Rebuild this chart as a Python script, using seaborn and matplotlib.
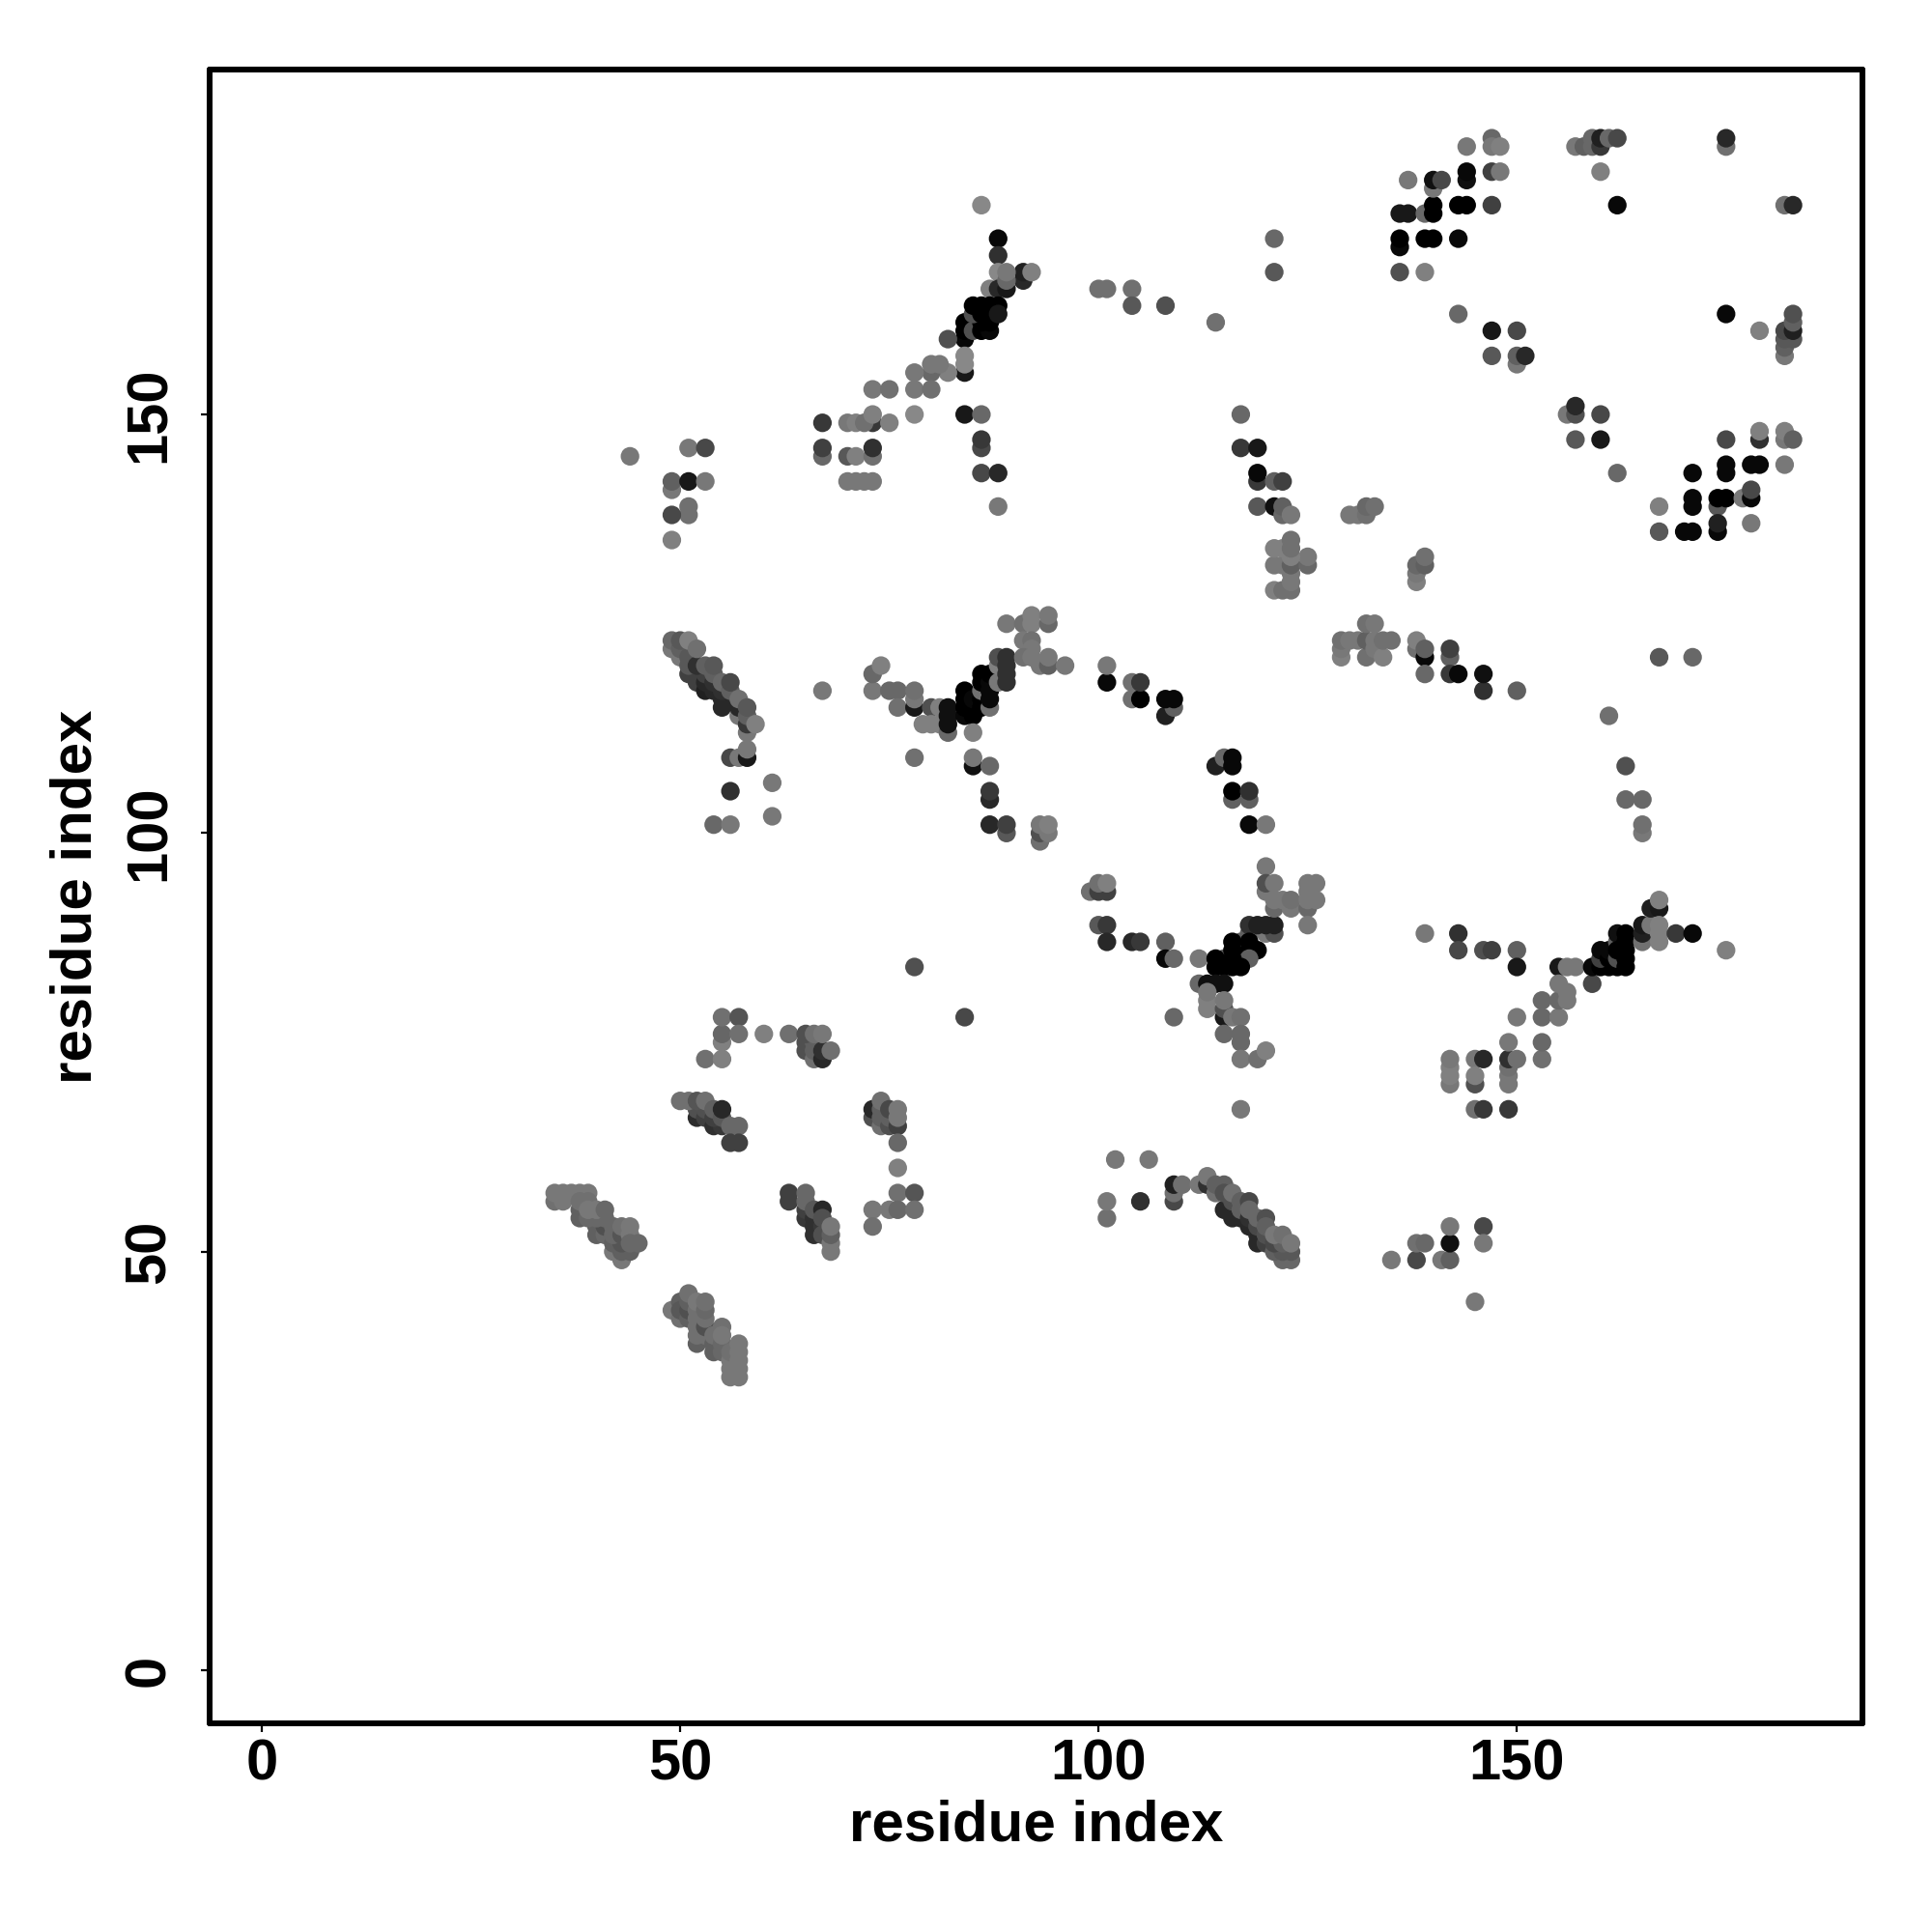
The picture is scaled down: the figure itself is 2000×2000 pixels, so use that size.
import matplotlib
matplotlib.use("Agg")
import matplotlib.pyplot as plt
import pandas as pd
import seaborn as sns

# each contact: (residue i, residue j, grey level)
helix_a = [(35,56,0x70),(36,56,0x78),(35,57,0x78),(36,57,0x78),(37,57,0x78),(38,57,0x78),(39,57,0x78),(38,54,0x60),(38,55,0x60),(38,56,0x70),(39,56,0x70),
           (40,52,0x60),(40,53,0x60),(41,52,0x68),(41,53,0x50),(41,54,0x68),(39,54,0x68),(40,54,0x68),(39,55,0x78),(40,55,0x78),(41,55,0x68),
           (43,49,0x78),(42,50,0x78),(43,50,0x60),(44,50,0x60),(42,51,0x60),(43,51,0x55),(42,52,0x68),(42,53,0x68),(43,52,0x55),(43,53,0x70),(44,53,0x78),(44,52,0x78),(44,51,0x68),(45,51,0x68)]
helix_b = [(49,43,0x78),(50,42,0x70),(50,44,0x60),(50,43,0x58),(51,42,0x60),(51,43,0x50),(51,44,0x60),(51,45,0x70),(52,39,0x60),(52,40,0x70),(52,41,0x70),(52,42,0x70),(52,43,0x70),(52,44,0x78),
           (53,40,0x70),(53,41,0x50),(53,42,0x70),(53,43,0x68),(53,44,0x70),(54,38,0x60),(54,39,0x60),(54,40,0x70),(55,38,0x68),(55,39,0x68),(55,41,0x70),(55,40,0x78),
           (56,35,0x78),(56,36,0x78),(56,37,0x78),(56,38,0x70),(57,35,0x78),(57,36,0x78),(57,37,0x78),(57,38,0x78),(57,39,0x78)]
loop_c = [(55,75,0x80),(55,76,0x66),(55,78,0x70),(57,78,0x55),(57,76,0x70),(60,76,0x80),(53,73,0x70),(55,73,0x80),(63,76,0x70),
          (65,74,0x50),(65,75,0x50),(66,73,0x70),(66,74,0x60),(66,75,0x60),(67,73,0x28),(67,74,0x30),(65,76,0x50),(66,76,0x70),(67,76,0x78),(68,74,0x70)]
strand_d = [(52,66,0x2c),(52,67,0x50),(53,66,0x40),(53,67,0x50),(54,65,0x30),(55,65,0x38),(54,66,0x40),(50,68,0x70),(51,68,0x70),(52,68,0x55),(53,68,0x70),(54,67,0x60),(55,66,0x58),(55,67,0x28),(56,65,0x68),(57,65,0x68),(56,63,0x40),(57,63,0x40)]
strand_e = [(63,56,0x40),(63,57,0x40),(65,54,0x38),(65,55,0x40),(66,52,0x30),(66,53,0x30),(66,54,0x30),(65,56,0x68),(65,57,0x68),(66,55,0x58),(67,53,0x38),(67,55,0x28),(67,52,0x50),(67,54,0x50),(68,50,0x78),(68,51,0x78),(68,52,0x60),(68,53,0x78)]
strand_f = [(73,66,0x50),(73,67,0x28),(74,65,0x70),(74,66,0x60),(74,67,0x60),(74,68,0x70),(75,65,0x50),(75,66,0x60),(75,67,0x48),(76,65,0x40),(76,66,0x78),(76,67,0x78),(76,63,0x68),(76,60,0x80),
            (76,57,0x70),(78,57,0x55),(73,55,0x78),(75,55,0x78),(76,55,0x68),(78,55,0x70),(73,53,0x70),(78,84,0x50),(84,78,0x48)]
core_g = [(101,93,0x40),(99,93,0x70),(100,93,0x40),(100,94,0x70),(101,94,0x80),(100,89,0x58),(101,89,0x38),(101,87,0x28),(104,87,0x28),(105,87,0x38),(108,87,0x60),(108,85,0x08),(109,85,0x68),(112,85,0x78),(109,78,0x68),(117,67,0x78),
          (118,88,0x60),(120,88,0x78),(121,88,0x50),(118,89,0x30),(119,89,0x20),(120,89,0x20),(121,89,0x20),(117,87,0x60),(118,87,0x00),(116,87,0x00),(117,85,0x60),(115,85,0x60),(116,86,0x00),(118,86,0x00),(119,86,0x00),(118,85,0x60),
          (114,85,0x00),(114,84,0x00),(115,84,0x00),(116,85,0x00),(116,84,0x00),(117,84,0x00),(112,82,0x68),(113,82,0x10),(114,82,0x10),(115,82,0x10),(113,79,0x80),(113,80,0x80),(113,81,0x78),
          (115,78,0x18),(115,79,0x50),(115,80,0x78),(116,78,0x78),(117,78,0x70),(115,76,0x68),(117,75,0x68),(117,76,0x68),(117,73,0x78),(119,73,0x70),(120,74,0x80)]
core_h = [(120,96,0x78),(120,93,0x78),(120,94,0x50),(121,94,0x78),(121,91,0x68),(121,92,0x78),(122,92,0x78),(123,91,0x78),(123,92,0x70),(125,91,0x68),(125,92,0x78),(125,93,0x78),(126,92,0x78),(125,94,0x78),(126,94,0x78),(125,89,0x78)]
band_i = [(101,54,0x70),(101,56,0x78),(102,61,0x78),(106,61,0x78),(105,56,0x30),(109,56,0x48),(109,57,0x70),(109,58,0x20),(110,58,0x70),(112,58,0x78),(113,58,0x30),(113,59,0x78),
          (115,55,0x28),(116,54,0x28),(117,54,0x28),(116,55,0x28),(118,53,0x28),(119,51,0x28),(119,52,0x28),(114,57,0x70),(114,58,0x60),(115,58,0x60),(115,57,0x50),(116,56,0x50),(116,57,0x70),(117,55,0x60),(117,56,0x60),(118,56,0x48),(118,54,0x30),(118,55,0x68),
          (119,53,0x48),(119,54,0x68),(120,54,0x50),(120,51,0x40),(120,52,0x50),(120,53,0x60),(122,49,0x68),(123,49,0x68),(121,50,0x60),(122,50,0x58),(123,50,0x58),(121,51,0x48),(122,51,0x60),(121,52,0x78),(122,52,0x70),(123,51,0x78)]
low_j = [(135,49,0x78),(138,49,0x48),(141,49,0x78),(142,49,0x60),(138,51,0x70),(139,51,0x68),(142,51,0x10),(142,53,0x78),(146,53,0x48),(146,51,0x78),(145,44,0x78)]
mid_k = [(139,88,0x78),(143,88,0x30),(143,86,0x48),(146,86,0x50),(147,86,0x40),(150,86,0x60),(150,84,0x18),
         (142,70,0x78),(142,71,0x80),(142,72,0x80),(142,73,0x78),(145,73,0x78),(146,73,0x28),(145,70,0x50),(145,71,0x80),(145,67,0x70),(146,67,0x38),(149,67,0x38),
         (149,70,0x78),(149,71,0x78),(149,72,0x70),(149,73,0x30),(150,73,0x70),(149,75,0x78),(150,78,0x78),(153,73,0x70),(153,75,0x68),(153,78,0x68),(153,80,0x68),(155,78,0x78),(155,80,0x68),(155,84,0x18),(155,82,0x78),(156,81,0x78),(156,80,0x78),(156,84,0x78),(157,84,0x78)]
band_l = [(159,82,0x48),(159,84,0x08),(160,84,0x00),(161,84,0x00),(162,84,0x00),(160,85,0x40),(160,86,0x08),(161,85,0x00),(161,86,0x08),(162,85,0x50),(162,87,0x60),(162,88,0x10),(163,84,0x00),(163,85,0x00),(163,86,0x00),(163,87,0x00),(163,88,0x00),(162,86,0x00),
          (165,87,0x70),(165,88,0x20),(165,89,0x18),(166,89,0x78),(166,91,0x20),(167,91,0x18),(167,92,0x80),(167,87,0x80),(167,88,0x80),(167,89,0x80),(169,88,0x38),(171,88,0x08),(175,86,0x80)]
top_m = [(136,167,0x50),(139,167,0x80),(136,170,0x08),(136,171,0x00),(139,171,0x00),(140,171,0x00),(143,171,0x08),(136,174,0x18),(137,174,0x18),(139,174,0x68),(140,174,0x00),(140,175,0x00),(143,175,0x00),(144,175,0x00),(147,175,0x40),
         (140,177,0x78),(137,178,0x78),(140,178,0x10),(141,178,0x48),(144,178,0x10),(144,179,0x08),(147,179,0x40),(148,179,0x78),(144,182,0x78),(147,183,0x68),(147,182,0x78),(148,182,0x80),
         (157,182,0x78),(158,182,0x60),(159,183,0x68),(159,182,0x68),(160,182,0x38),(160,183,0x20),(161,183,0x68),(162,183,0x48),(160,179,0x80),(162,175,0x08),(175,182,0x70),(175,183,0x28),(182,175,0x70),(183,175,0x28)]
top_n = [(143,162,0x68),(147,160,0x18),(150,160,0x48),(147,157,0x58),(150,156,0x78),(150,157,0x60),(151,157,0x28),(175,162,0x08),(179,160,0x80),(182,157,0x78),(182,158,0x60),(182,159,0x58),(183,159,0x58),(182,160,0x48),(183,160,0x20),(183,161,0x60),(183,162,0x50)]
right_o = [(156,150,0x78),(157,150,0x50),(157,151,0x28),(160,150,0x48),(157,147,0x58),(160,147,0x18),(162,143,0x68),(175,147,0x48),(179,147,0x30),(179,148,0x80),(182,147,0x78),(182,148,0x80),(183,147,0x60),
           (175,143,0x08),(175,144,0x08),(178,144,0x08),(179,144,0x08),(182,144,0x78),(171,143,0x08),(171,139,0x08),(171,140,0x08),(174,139,0x58),(174,140,0x00),(175,140,0x00),(177,140,0x78),(178,140,0x08),(178,141,0x48),
           (167,139,0x80),(167,136,0x58),(170,136,0x08),(171,136,0x08),(174,136,0x08),(174,137,0x20),(178,137,0x78)]
arm_p = [(86,175,0x88),(88,171,0x08),(88,169,0x30),(88,167,0x88),(91,166,0x28),(91,167,0x20),(92,167,0x80),(87,165,0x80),(88,165,0x28),(89,165,0x18),(89,166,0x68),(89,167,0x78),(100,165,0x70),(101,165,0x70),(104,165,0x70),(104,163,0x58),(108,163,0x50),
         (87,162,0x78),(84,159,0x08),(84,160,0x00),(84,161,0x00),(82,159,0x50),(85,160,0x50),(86,160,0x00),(87,160,0x08),(86,161,0x00),(87,161,0x00),(85,162,0x50),(86,162,0x00),(85,163,0x00),(86,163,0x00),(87,163,0x00),(88,163,0x00),(88,162,0x18),
         (84,155,0x18),(84,156,0x88),(84,157,0x88),(82,155,0x80),(80,155,0x68),(80,156,0x78),(81,156,0x78),(78,155,0x78),(78,153,0x78),(80,153,0x70),(73,153,0x78),(75,153,0x70),(78,150,0x88),(84,150,0x18),(86,150,0x68)]
arm_q = [(67,149,0x38),(73,149,0x38),(70,149,0x78),(71,149,0x80),(72,149,0x70),(73,150,0x80),(75,149,0x80),(67,145,0x68),(67,146,0x40),(70,145,0x58),(71,145,0x80),(73,145,0x70),(73,146,0x30),(70,142,0x78),(71,142,0x78),(72,142,0x78),(73,142,0x78),
         (86,146,0x48),(86,147,0x38),(86,143,0x48),(88,143,0x28),(88,139,0x78),(44,145,0x78),(51,146,0x78),(53,146,0x48),(49,141,0x78),(49,142,0x60),(51,142,0x18),(53,142,0x78),(51,138,0x70),(51,139,0x70),(49,138,0x48),(49,135,0x80)]
strand_r = [(51,119,0x40),(52,118,0x40),(52,119,0x40),(53,117,0x20),(53,118,0x28),(53,119,0x40),(54,117,0x28),(55,115,0x28),(55,116,0x28),(56,116,0x28),(55,117,0x30),(50,121,0x78),(49,122,0x78),(49,123,0x68),(50,122,0x60),(50,123,0x58),(51,120,0x58),(51,121,0x58),(51,123,0x80),(52,120,0x30),(52,122,0x70),
            (53,120,0x60),(54,118,0x30),(54,119,0x60),(54,120,0x58),(55,118,0x68),(56,117,0x60),(56,118,0x48),(57,114,0x78),(57,115,0x28),(57,116,0x70),(58,112,0x78),(58,113,0x38),(58,114,0x60),(58,115,0x58),(59,113,0x80),
            (56,109,0x48),(57,109,0x78),(58,109,0x18),(58,110,0x78),(56,105,0x30),(61,106,0x78),(61,102,0x78),(54,101,0x68),(56,101,0x78)]
vee_s = [(67,117,0x78),(73,117,0x78),(73,119,0x68),(74,120,0x80),(75,117,0x68),(76,117,0x68),(76,115,0x70),(78,115,0x18),(78,116,0x78),(78,117,0x70),(80,115,0x50),(81,115,0x80),(79,113,0x80),(80,113,0x80),(81,113,0x80),(82,112,0x68),(82,113,0x10),(82,114,0x10),(82,115,0x10),
         (84,114,0x08),(84,115,0x00),(84,116,0x00),(84,117,0x00),(85,114,0x00),(85,115,0x00),(85,116,0x08),(86,115,0x00),(86,116,0x00),(86,117,0x70),(86,118,0x00),(86,119,0x00),(87,115,0x70),(87,116,0x08),(87,117,0x08),(87,118,0x08),(87,119,0x00),(88,118,0x78),(88,120,0x80),(88,121,0x50),(89,118,0x30),(89,119,0x30),(89,120,0x30),(89,121,0x30),
         (85,112,0x80),(85,108,0x10),(85,109,0x78),(87,108,0x68),(87,104,0x28),(87,105,0x38),(87,101,0x28),(89,100,0x58),(89,101,0x40),(78,109,0x70),(93,99,0x70),(93,100,0x50),(94,100,0x78),(93,101,0x78),(94,101,0x80)]
vee_t = [(89,125,0x78),(91,125,0x70),(92,125,0x80),(92,126,0x80),(94,125,0x68),(94,126,0x78),(91,123,0x78),(92,123,0x70),(92,122,0x78),(91,121,0x70),(92,121,0x78),(93,120,0x78),(94,120,0x60),(94,121,0x78),(96,120,0x78),(101,118,0x08),(101,120,0x78)]
arc_u = [(104,116,0x70),(105,116,0x00),(104,118,0x70),(105,118,0x38),(108,114,0x20),(109,115,0x60),(108,116,0x08),(109,116,0x08),(114,108,0x20),(115,109,0x68),(116,108,0x08),(116,109,0x08),(116,104,0x60),(116,105,0x00),(118,104,0x60),(118,105,0x30),(118,101,0x08),(120,101,0x78)]
arc_v = [(129,121,0x80),(129,122,0x78),(129,123,0x70),(130,123,0x78),(131,123,0x78),(132,121,0x70),(132,123,0x60),(132,125,0x70),(133,125,0x78),(133,122,0x78),(133,123,0x78),(134,121,0x80),(134,123,0x70),(135,123,0x70),
         (138,122,0x70),(138,123,0x80),(139,121,0x08),(139,122,0x60),(139,119,0x68),(142,121,0x60),(142,122,0x40),(142,119,0x38),(143,119,0x08),(146,117,0x30),(146,119,0x10),(150,117,0x60),
         (161,114,0x70),(163,108,0x50),(163,104,0x68),(165,104,0x68),(165,100,0x78),(165,101,0x70),(167,121,0x58),(171,121,0x68)]
patch_w = [(121,171,0x68),(121,167,0x58),(114,161,0x70),(117,150,0x68),(117,146,0x38),(119,146,0x18),(119,142,0x38),(119,143,0x08),(121,142,0x60),(122,142,0x40),(119,139,0x58),(121,139,0x10),(122,138,0x68),(122,139,0x60),(123,138,0x78),
           (130,138,0x78),(131,138,0x78),(132,138,0x70),(132,139,0x68),(133,139,0x70),(121,129,0x80),(122,129,0x70),(123,129,0x70),(123,130,0x78),(123,131,0x78),(121,132,0x78),(122,132,0x78),(123,132,0x60),(125,132,0x68),(125,133,0x78),(121,134,0x80),(122,134,0x80),(123,133,0x80),(123,134,0x70),(123,135,0x70),
           (138,130,0x80),(138,131,0x78),(138,132,0x68),(139,132,0x60),(139,133,0x70)]

tick_values = [0, 50, 100, 150]
axis_title = "residue index"

groups = [helix_a, helix_b, loop_c, strand_d, strand_e, strand_f, core_g, core_h, band_i, low_j, mid_k, band_l,
          top_m, top_n, right_o, arm_p, arm_q, strand_r, vee_s, vee_t, arc_u, arc_v, patch_w]
df = pd.DataFrame([c for g in groups for c in g], columns=["i", "j", "grey"])
palette = {g: "#{0:02x}{0:02x}{0:02x}".format(g) for g in df["grey"].unique()}

sns.set_theme(style="white")
plt.rcParams["font.family"] = ["Liberation Sans", "DejaVu Sans"]
fig = plt.figure(figsize=(10, 10), dpi=200, facecolor="white")
ax = fig.add_axes([216.5 / 2000, 216 / 2000, 1711.5 / 2000, 1712 / 2000])
sns.scatterplot(data=df, x="i", y="j", hue="grey", palette=palette, s=48, linewidth=0, legend=False, ax=ax, zorder=3)
ax.set_xlim(-6.3, 191.3)
ax.set_ylim(-6.35, 191.2)
ax.set_xticks(tick_values)
ax.set_yticks(tick_values)
ax.tick_params(axis="both", length=3.2, width=0.8, color="black", bottom=True, left=True)
ax.tick_params(axis="x", pad=2.5)
ax.tick_params(axis="y", pad=9)
for lab in ax.get_xticklabels():
    lab.set_fontsize(21.5); lab.set_fontweight("bold"); lab.set_color("black")
for lab in ax.get_yticklabels():
    lab.set_fontsize(21.5); lab.set_fontweight("bold"); lab.set_color("black")
    lab.set_rotation(90); lab.set_va("center")
for s in ax.spines.values():
    s.set_visible(True); s.set_linewidth(2.16); s.set_color("black"); s.set_capstyle("round")
ax.set_xlabel(axis_title, fontsize=21.6, fontweight="bold", color="black")
ax.set_ylabel(axis_title, fontsize=21.6, fontweight="bold", color="black")
ax.xaxis.set_label_coords(0.5, -(1890 - 1784) / 1712, transform=ax.transAxes)
ax.xaxis.label.set_va("center")
ax.yaxis.set_label_coords((79 - 216.5) / 1711.5, 0.5, transform=ax.transAxes)
ax.yaxis.label.set_va("center")
fig.savefig("out.png", dpi=200)
